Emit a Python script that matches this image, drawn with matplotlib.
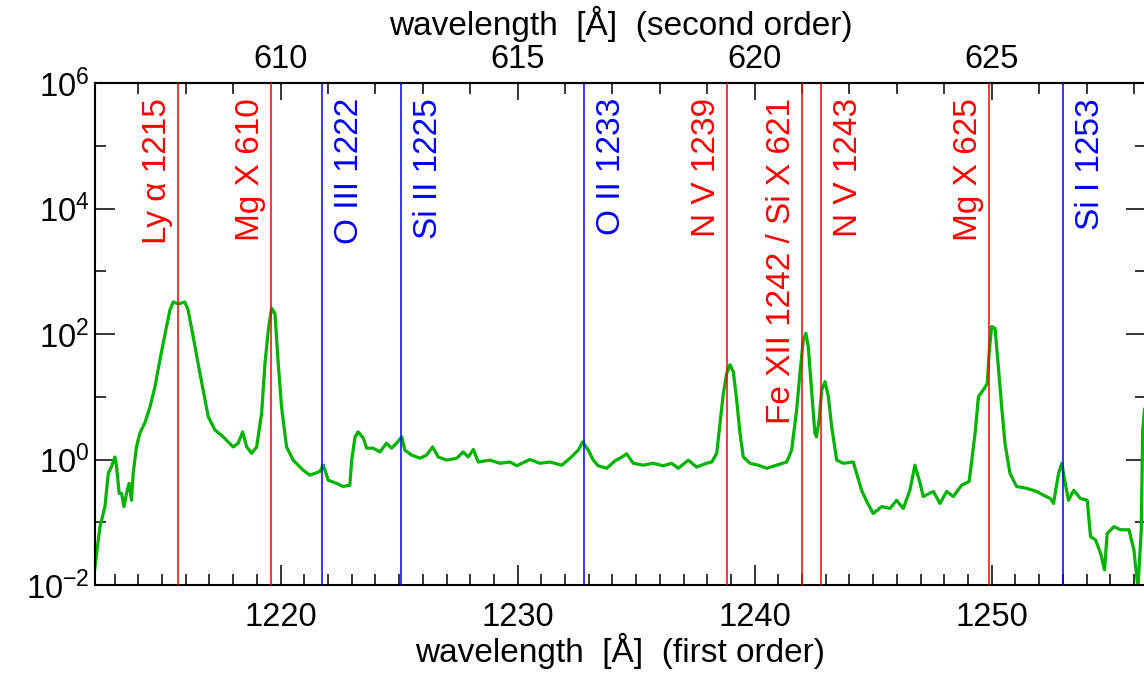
import numpy as np
import matplotlib
matplotlib.use("Agg")
import matplotlib.pyplot as plt
from matplotlib.ticker import FixedLocator, FixedFormatter, MultipleLocator, NullFormatter

plt.rcParams['font.family'] = ['Liberation Sans', 'DejaVu Sans']
plt.rcParams['mathtext.fontset'] = 'custom'
plt.rcParams['mathtext.rm'] = 'Liberation Sans'
plt.rcParams['mathtext.it'] = 'Liberation Sans:italic'
plt.rcParams['mathtext.bf'] = 'Liberation Sans:bold'
plt.rcParams['mathtext.default'] = 'regular'

# ---- spectrum: first-order wavelength [A] and log10 of the signal ----
wavelength = np.array([
    1212.12, 1212.24, 1212.38, 1212.59, 1212.73, 1212.87, 1213.01, 1213.08, 1213.19, 1213.29,
    1213.39, 1213.50, 1213.61, 1213.71, 1213.78, 1213.92, 1214.06, 1214.27, 1214.49, 1214.70,
    1214.91, 1215.13, 1215.33, 1215.47, 1215.68, 1215.96, 1216.10, 1216.31, 1216.52, 1216.73,
    1216.95, 1217.23, 1217.58, 1218.00, 1218.21, 1218.40, 1218.57, 1218.78, 1218.99, 1219.20,
    1219.34, 1219.48, 1219.62, 1219.76, 1219.90, 1220.04, 1220.25, 1220.53, 1220.95, 1221.24,
    1221.66, 1221.80, 1222.01, 1222.36, 1222.64, 1222.92, 1223.00, 1223.14, 1223.27, 1223.49,
    1223.63, 1223.91, 1224.19, 1224.47, 1224.68, 1224.89, 1225.11, 1225.24, 1225.53, 1225.88,
    1226.16, 1226.41, 1226.65, 1227.00, 1227.43, 1227.70, 1227.92, 1228.13, 1228.34, 1228.83,
    1229.25, 1229.68, 1229.96, 1230.52, 1230.94, 1231.36, 1231.86, 1232.21, 1232.56, 1232.74,
    1232.98, 1233.19, 1233.40, 1233.76, 1234.11, 1234.32, 1234.60, 1234.88, 1235.30, 1235.72,
    1236.14, 1236.50, 1236.78, 1237.20, 1237.55, 1237.97, 1238.19, 1238.40, 1238.54, 1238.68,
    1238.82, 1238.96, 1239.10, 1239.24, 1239.38, 1239.52, 1239.80, 1240.15, 1240.51, 1240.93,
    1241.35, 1241.56, 1241.77, 1241.91, 1242.05, 1242.16, 1242.26, 1242.40, 1242.54, 1242.61,
    1242.72, 1242.83, 1242.97, 1243.11, 1243.25, 1243.46, 1243.74, 1244.16, 1244.30, 1244.51,
    1244.73, 1245.00, 1245.36, 1245.71, 1245.99, 1246.27, 1246.55, 1246.76, 1246.98, 1247.11,
    1247.54, 1247.82, 1248.10, 1248.38, 1248.73, 1249.05, 1249.16, 1249.30, 1249.44, 1249.65,
    1249.81, 1249.90, 1250.00, 1250.14, 1250.28, 1250.42, 1250.56, 1250.77, 1251.05, 1251.48,
    1251.90, 1252.19, 1252.47, 1252.61, 1252.82, 1252.96, 1253.10, 1253.24, 1253.46, 1253.74,
    1254.03, 1254.17, 1254.38, 1254.59, 1254.76, 1254.87, 1255.16, 1255.44, 1255.79, 1256.00,
    1256.17, 1256.31, 1256.37, 1256.45,
])
log10_signal = np.array([
    -1.87, -1.49, -1.07, -0.75, -0.22, -0.11, 0.04, -0.11, -0.54, -0.54,
    -0.75, -0.54, -0.38, -0.65, -0.22, 0.20, 0.42, 0.58, 0.84, 1.16,
    1.59, 2.01, 2.38, 2.51, 2.48, 2.51, 2.38, 1.96, 1.53, 1.11,
    0.68, 0.47, 0.36, 0.20, 0.26, 0.44, 0.20, 0.10, 0.20, 0.74,
    1.53, 2.06, 2.41, 2.33, 1.53, 0.84, 0.20, -0.01, -0.17, -0.25,
    -0.19, -0.09, -0.33, -0.38, -0.43, -0.41, -0.01, 0.36, 0.44, 0.34,
    0.18, 0.18, 0.12, 0.26, 0.18, 0.26, 0.36, 0.15, 0.07, 0.02,
    0.07, 0.20, 0.04, -0.01, 0.02, 0.12, 0.04, 0.16, -0.04, -0.01,
    -0.06, -0.04, -0.10, 0.00, -0.06, -0.04, -0.09, 0.02, 0.15, 0.28,
    0.15, -0.01, -0.10, -0.14, -0.02, 0.02, 0.09, -0.06, -0.09, -0.06,
    -0.10, -0.06, -0.14, -0.01, -0.12, -0.06, -0.04, 0.10, 0.58, 1.06,
    1.37, 1.51, 1.40, 0.95, 0.42, 0.04, -0.06, -0.09, -0.14, -0.09,
    -0.04, 0.15, 0.79, 1.37, 1.90, 2.01, 1.80, 1.11, 0.42, 0.36,
    0.63, 1.11, 1.24, 1.00, 0.52, -0.01, -0.06, -0.04, -0.22, -0.49,
    -0.67, -0.86, -0.75, -0.78, -0.65, -0.78, -0.49, -0.09, -0.38, -0.59,
    -0.51, -0.70, -0.51, -0.59, -0.41, -0.35, -0.01, 0.42, 1.00, 1.11,
    1.21, 1.74, 2.12, 2.09, 1.48, 0.84, 0.26, -0.22, -0.43, -0.46,
    -0.51, -0.57, -0.62, -0.70, -0.22, -0.06, -0.38, -0.65, -0.49, -0.62,
    -0.65, -1.23, -1.28, -1.49, -1.76, -1.18, -1.07, -1.12, -1.12, -1.44,
    -2.05, -1.12, 0.47, 0.80,
])
signal = 10.0 ** log10_signal

# ---- identified lines ----
red_line_names = ["Ly \u03b1 1215", "Mg X 610", "N V 1239", "Fe XII 1242 / Si X 621",
                  "N V 1243", "Mg X 625"]
red_line_wavelengths = [1215.67, 1219.58, 1238.82, 1242.00, 1242.80, 1249.88]
blue_line_names = ["O III 1222", "Si II 1225", "O II 1233", "Si I 1253"]
blue_line_wavelengths = [1221.76, 1225.10, 1232.78, 1253.00]

# ---- axes ticks ----
x_ticks_first = [1220, 1230, 1240, 1250]
x_ticks_second = [610, 615, 620, 625]
y_ticks = [1e-2, 1e0, 1e2, 1e4, 1e6]
x_limits = (1212.17, 1256.51)

RED = "#ff0000"
BLUE = "#0000ff"
GREEN = "#00b400"
FS = 24
TICK_FS = 23.5

fig = plt.figure(figsize=(11.44, 6.81), dpi=100)
W, H = 1144.0, 681.0
ax = fig.add_axes([95 / W, 96 / H, 1051 / W, 502 / H])

ax.plot(wavelength, signal, color=GREEN, lw=2.3, zorder=2)

# vertical line markers with rotated labels
labels_right_of_line = {"O III 1222", "Si II 1225", "O II 1233", "N V 1243", "Si I 1253"}
for names, waves, col in ((red_line_names, red_line_wavelengths, RED),
                          (blue_line_names, blue_line_wavelengths, BLUE)):
    for name, w in zip(names, waves):
        ax.axvline(w, color=col, lw=1.1, zorder=3)
        dx = 36 if name in labels_right_of_line else -12
        ax.annotate(name, xy=(w, 1.0), xycoords=("data", "axes fraction"),
                    xytext=(dx, -15), textcoords="offset pixels",
                    rotation=90, rotation_mode="anchor", ha="right", va="baseline",
                    color=col, fontsize=FS, zorder=4)

ax.set_yscale("log")
ax.set_ylim(y_ticks[0], y_ticks[-1])
ax.set_xlim(*x_limits)

ax.yaxis.set_major_locator(FixedLocator(y_ticks))
ax.yaxis.set_major_formatter(FixedFormatter(
    [r"$10^{%d}$" % int(round(np.log10(v))) for v in y_ticks]))
y_minor = [np.sqrt(a * b) for a, b in zip(y_ticks[:-1], y_ticks[1:])]
ax.yaxis.set_minor_locator(FixedLocator(y_minor))
ax.yaxis.set_minor_formatter(NullFormatter())

ax.xaxis.set_major_locator(FixedLocator(x_ticks_first))
ax.xaxis.set_minor_locator(MultipleLocator(1))

ax.tick_params(axis="both", which="both", direction="in", color="black", width=1.1)
ax.tick_params(axis="x", which="both", top=False, bottom=True)
ax.tick_params(axis="y", which="both", left=True, right=True)
ax.tick_params(axis="x", which="major", length=14.5, pad=12, labelsize=TICK_FS)
ax.tick_params(axis="x", which="minor", length=8)
ax.tick_params(axis="y", which="major", length=14.5, pad=4, labelsize=TICK_FS)
ax.tick_params(axis="y", which="minor", length=8)
for sp in ax.spines.values():
    sp.set_linewidth(1.5)

ax.set_xlabel("wavelength  [\u00c5]  (first order)", fontsize=FS, labelpad=0)

top = ax.secondary_xaxis("top", functions=(lambda x: x / 2.0, lambda x: x * 2.0))
top.xaxis.set_major_locator(FixedLocator(x_ticks_second))
top.xaxis.set_minor_locator(MultipleLocator(1))
top.tick_params(axis="x", which="both", direction="in", color="black", width=1.1)
top.tick_params(axis="x", which="major", length=12.5, pad=6, labelsize=TICK_FS)
top.tick_params(axis="x", which="minor", length=8)
top.spines["top"].set_linewidth(1.5)
top.set_xlabel("wavelength  [\u00c5]  (second order)", fontsize=FS, labelpad=6)

fig.savefig("out.png", dpi=100)
